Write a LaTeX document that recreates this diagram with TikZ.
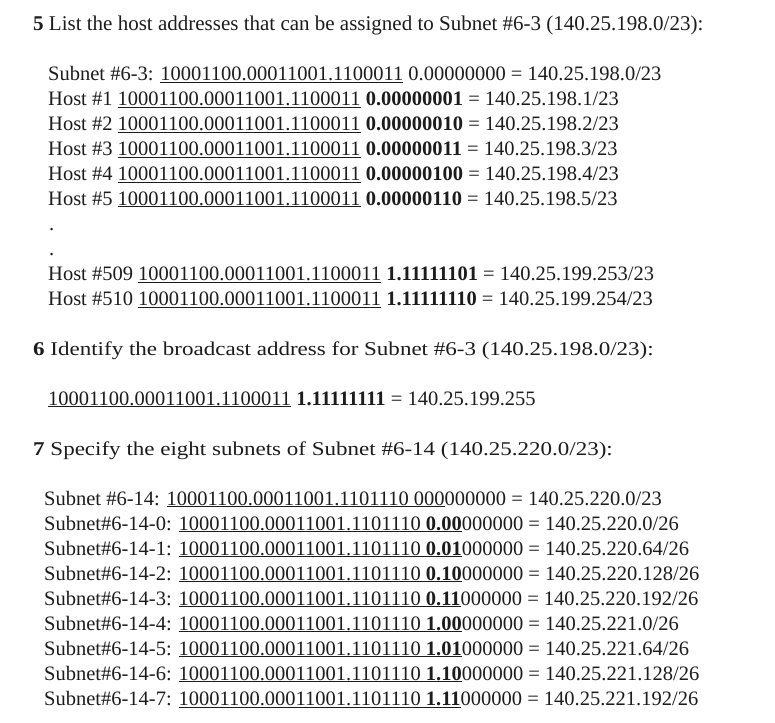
\documentclass[tikz,border=0pt]{standalone}
\usepackage{fontspec}
\setmainfont{Liberation Serif}
\newfontfamily\headfont[FakeStretch=1.18]{Liberation Serif}
\usetikzlibrary{positioning}

\definecolor{ink}{RGB}{28,28,28}
\newcommand{\bodyfont}{\fontsize{20.5}{25}\selectfont}
\newcommand{\net}[1]{\underline{#1}}

\tikzstyle{every node}=[anchor=base west, inner sep=0pt, text=ink, font=\bodyfont]
\tikzstyle{question}=[font=\fontsize{21}{25}\selectfont]
\tikzstyle{widequestion}=[font=\headfont\fontsize{19.5}{25}\selectfont]

\begin{document}
\begin{tikzpicture}[x=1pt,y=-1pt]
\useasboundingbox (0,0) rectangle (775,722);

% question 5
\node [question] (T5) at (33,31) {\textbf{5} List the host addresses that can be assigned to Subnet \#6-3 (140.25.198.0/23):};

\node (S63) at (48,81) {Subnet \#6-3: \net{10001100.00011001.1100011} 0.00000000 = 140.25.198.0/23};
\node (H1) at (48,106) {Host \#1 \net{10001100.00011001.1100011} \textbf{0.00000001} = 140.25.198.1/23};
\node (H2) at (48,130.5) {Host \#2 \net{10001100.00011001.1100011} \textbf{0.00000010} = 140.25.198.2/23};
\node (H3) at (48,155.5) {Host \#3 \net{10001100.00011001.1100011} \textbf{0.00000011} = 140.25.198.3/23};
\node (H4) at (48,180.5) {Host \#4 \net{10001100.00011001.1100011} \textbf{0.00000100} = 140.25.198.4/23};
\node (H5) at (48,205) {Host \#5 \net{10001100.00011001.1100011} \textbf{0.00000110} = 140.25.198.5/23};
\node (D1) at (49,230) {.};
\node (D2) at (49,255) {.};
\node (H509) at (48,280.5) {Host \#509 \net{10001100.00011001.1100011} \textbf{1.11111101} = 140.25.199.253/23};
\node (H510) at (48,305.5) {Host \#510 \net{10001100.00011001.1100011} \textbf{1.11111110} = 140.25.199.254/23};

% question 6
\node [widequestion] (T6) at (33,355) {\textbf{6} Identify the broadcast address for Subnet \#6-3 (140.25.198.0/23):};
\node (BC) at (48,405) {\net{10001100.00011001.1100011} \textbf{1.11111111} = 140.25.199.255};

% question 7
\node [widequestion] (T7) at (33,455) {\textbf{7} Specify the eight subnets of Subnet \#6-14 (140.25.220.0/23):};

\node (S614) at (44,505) {Subnet \#6-14: \net{10001100.00011001.1101110 000}000000 = 140.25.220.0/23};
\node (N0) at (44,530) {Subnet\#6-14-0: \net{10001100.00011001.1101110 \textbf{0.00}}000000 = 140.25.220.0/26};
\node (N1) at (44,555) {Subnet\#6-14-1: \net{10001100.00011001.1101110 \textbf{0.01}}000000 = 140.25.220.64/26};
\node (N2) at (44,580) {Subnet\#6-14-2: \net{10001100.00011001.1101110 \textbf{0.10}}000000 = 140.25.220.128/26};
\node (N3) at (44,605) {Subnet\#6-14-3: \net{10001100.00011001.1101110 \textbf{0.11}}000000 = 140.25.220.192/26};
\node (N4) at (44,630) {Subnet\#6-14-4: \net{10001100.00011001.1101110 \textbf{1.00}}000000 = 140.25.221.0/26};
\node (N5) at (44,655) {Subnet\#6-14-5: \net{10001100.00011001.1101110 \textbf{1.01}}000000 = 140.25.221.64/26};
\node (N6) at (44,680) {Subnet\#6-14-6: \net{10001100.00011001.1101110 \textbf{1.10}}000000 = 140.25.221.128/26};
\node (N7) at (44,705) {Subnet\#6-14-7: \net{10001100.00011001.1101110 \textbf{1.11}}000000 = 140.25.221.192/26};

\end{tikzpicture}
\end{document}
